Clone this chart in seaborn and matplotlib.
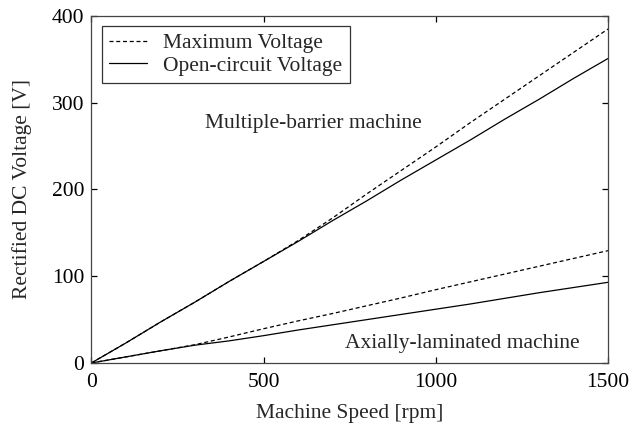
import matplotlib
matplotlib.use("Agg")
import matplotlib.pyplot as plt
import seaborn as sns
import pandas as pd

# Machine speed samples [rpm]
speed = [0, 100, 200, 300, 400, 500, 600, 700, 800, 900, 1000, 1100, 1200, 1300, 1400, 1500]

# Multiple-barrier machine [V]
mb_max = [0, 23, 47, 70, 94, 117, 141, 167, 195, 222, 249, 277, 304, 331, 358, 385]
mb_oc = [0, 23, 47, 70, 94, 117, 140, 164, 187, 211, 234, 257, 281, 304, 328, 351]

# Axially-laminated machine [V]
al_max = [0, 7, 14, 21, 30, 39.5, 48.5, 57, 66, 75, 84.5, 93.5, 102.5, 111.5, 120.5, 129.5]
al_oc = [0, 7, 14, 20.5, 25.5, 31.5, 38, 44, 50, 56, 62, 68, 74.5, 81, 87, 93]

x_ticks = [0, 500, 1000, 1500]
y_ticks = [0, 100, 200, 300, 400]

sns.set_theme(style="ticks")
plt.rcParams["font.family"] = ["Liberation Serif", "DejaVu Serif"]
plt.rcParams["font.size"] = 15.5

fig = plt.figure(figsize=(6.44, 4.25), dpi=100)
ax = fig.add_axes([0.1418, 0.1459, 0.8023, 0.8165])

dash = (3.2, 2.2)
frames = {
    "mb_max": (mb_max, True),
    "mb_oc": (mb_oc, False),
    "al_max": (al_max, True),
    "al_oc": (al_oc, False),
}
for name, (vals, dashed) in frames.items():
    df = pd.DataFrame({"speed": speed, "voltage": vals})
    sns.lineplot(data=df, x="speed", y="voltage", ax=ax, color="black",
                 linewidth=0.9, legend=False,
                 linestyle=(0, dash) if dashed else "-")

ax.set_xlim(0, 1500)
ax.set_ylim(0, 400)
ax.set_xticks(x_ticks)
ax.set_yticks(y_ticks)
ax.set_xlabel("Machine Speed [rpm]", fontsize=15.5, labelpad=9)
ax.set_ylabel("Rectified DC Voltage [V]", fontsize=15.5, labelpad=14)

ax.tick_params(direction="in", length=4.5, width=0.9, top=True, right=True,
               labelsize=15.5, colors="black")
ax.tick_params(axis="x", pad=7)
ax.tick_params(axis="y", pad=5)
for side in ax.spines.values():
    side.set_visible(True)
    side.set_color("#444444")
    side.set_linewidth(0.9)

ax.text(330, 276, "Multiple-barrier machine", fontsize=15.5, va="center", ha="left")
ax.text(736, 23, "Axially-laminated machine", fontsize=15.5, va="center", ha="left")

handles = [ax.lines[0], ax.lines[1]]
leg = ax.legend(handles, ["Maximum Voltage", "Open-circuit Voltage"],
                loc="upper left", bbox_to_anchor=(0.02, 0.972),
                frameon=True, fancybox=False, shadow=False,
                handlelength=1.75, handletextpad=0.75, borderpad=0.35,
                labelspacing=0.12, borderaxespad=0, fontsize=15.5)
leg.get_frame().set_edgecolor("black")
leg.get_frame().set_linewidth(0.9)

fig.savefig("out.png", dpi=100, facecolor="white")
